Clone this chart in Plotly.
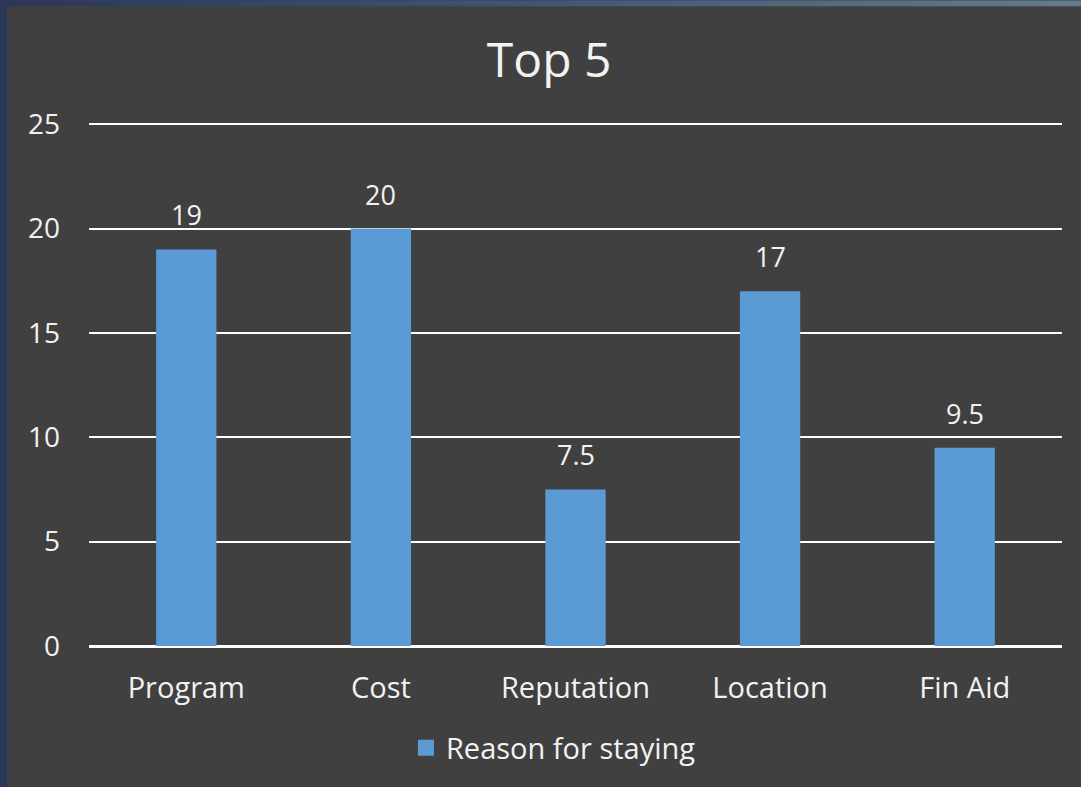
import plotly.graph_objects as go

# Survey results: top reasons for staying
categories = ["Program", "Cost", "Reputation", "Location", "Fin Aid"]
values = [19, 20, 7.5, 17, 9.5]
series_name = "Reason for staying"
y_ticks = [0, 5, 10, 15, 20, 25]

BAR_COLOR = "#5b9bd5"
PANEL = "#404040"
TEXT = "#f2f2f2"
FONT = "'Open Sans', Lato, sans-serif"

# plot area geometry (pixels)
PX_LEFT, PX_RIGHT = 89, 1062
PX_ZERO = 646
PX_PER_UNIT = 20.88
Y_MAX = 25.25
PX_TOP = PX_ZERO - Y_MAX * PX_PER_UNIT
PLOT_W = PX_RIGHT - PX_LEFT
PLOT_H = PX_ZERO - PX_TOP

fig = go.Figure()
fig.add_trace(go.Bar(
    x=categories, y=values, name=series_name, showlegend=False,
    marker=dict(color=BAR_COLOR, line=dict(width=0)),
    width=0.31,
))
# legend swatch for the series (larger square than the default bar icon)
fig.add_trace(go.Scatter(
    x=[None], y=[None], mode="markers", name=series_name,
    marker=dict(symbol="square", size=17, color=BAR_COLOR),
))

# value labels above each bar
for c, v in zip(categories, values):
    fig.add_annotation(
        x=c, y=v, text=f"{v:g}", showarrow=False,
        yanchor="bottom", yshift=14,
        font=dict(family=FONT, size=27, color=TEXT),
    )

# blue gradient frame behind the dark panel
grad_svg = (
    "data:image/svg+xml;utf8,"
    "<svg xmlns='http://www.w3.org/2000/svg' width='1081' height='787'>"
    "<defs><linearGradient id='g' x1='0' y1='0' x2='1' y2='0'>"
    "<stop offset='0' stop-color='%232a3658'/>"
    "<stop offset='0.5' stop-color='%23415676'/>"
    "<stop offset='1' stop-color='%23607e8c'/>"
    "</linearGradient></defs>"
    "<rect width='1081' height='787' fill='url(%23g)'/></svg>"
)
fig.add_layout_image(
    source=grad_svg, xref="paper", yref="paper",
    x=-PX_LEFT / PLOT_W, y=PX_ZERO / PLOT_H,
    sizex=1081 / PLOT_W, sizey=787 / PLOT_H,
    xanchor="left", yanchor="top", sizing="stretch", layer="below",
)
fig.add_shape(
    type="rect", xref="paper", yref="paper",
    x0=(7 - PX_LEFT) / PLOT_W, x1=1.2, y0=-0.4, y1=(PX_ZERO - 6) / PLOT_H,
    fillcolor=PANEL, line=dict(width=0), layer="below",
)

fig.update_layout(
    width=1081, height=787,
    margin=dict(l=PX_LEFT, r=1081 - PX_RIGHT, t=PX_TOP, b=787 - PX_ZERO),
    paper_bgcolor=PANEL,
    plot_bgcolor="rgba(0,0,0,0)",
    font=dict(family=FONT, color=TEXT),
    title=dict(
        text="Top 5", xref="container", x=0.508, xanchor="center",
        yref="container", y=1 - 60 / 787, yanchor="middle",
        font=dict(family=FONT, size=48, color=TEXT),
    ),
    showlegend=True,
    legend=dict(
        orientation="h", xref="container", x=0.512, xanchor="center",
        yref="container", y=1 - 748 / 787, yanchor="middle",
        font=dict(family=FONT, size=29, color=TEXT),
        bgcolor="rgba(0,0,0,0)", itemwidth=30,
    ),
)
fig.update_xaxes(
    showgrid=False, showline=True, linecolor="#ffffff", linewidth=1.5,
    ticks="", tickfont=dict(family=FONT, size=29, color=TEXT),
    ticklabelstandoff=15,
)
fig.update_yaxes(
    range=[0, Y_MAX], tickvals=y_ticks, showgrid=True, gridcolor="#ffffff",
    gridwidth=1.5, zeroline=True, zerolinecolor="#ffffff", zerolinewidth=1.5,
    showline=False, ticks="", tickfont=dict(family=FONT, size=28, color=TEXT),
    ticklabelstandoff=28,
)

fig.write_html("out.html")
